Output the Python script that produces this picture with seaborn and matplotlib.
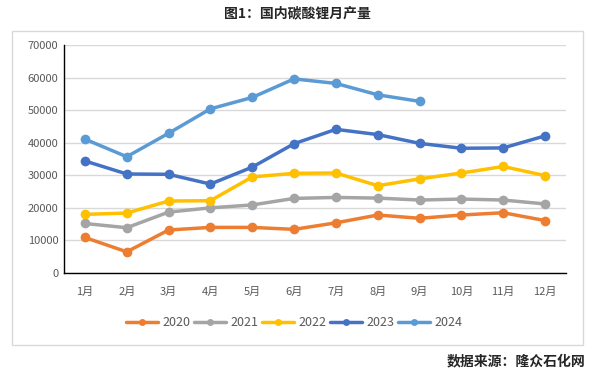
import matplotlib
matplotlib.use('Agg')
import matplotlib.pyplot as plt
import seaborn as sns
import pandas as pd
from matplotlib.patches import Rectangle

months = ['1月', '2月', '3月', '4月', '5月', '6月', '7月', '8月', '9月', '10月', '11月', '12月']
years = ['2020', '2021', '2022', '2023', '2024']

v2020 = [10900, 6500, 13200, 14000, 14000, 13400, 15400, 17800, 16800, 17800, 18500, 16100]
v2021 = [15200, 13900, 18700, 20000, 20900, 22900, 23200, 23000, 22400, 22700, 22400, 21200]
v2022 = [18000, 18400, 22100, 22200, 29500, 30600, 30700, 26800, 28900, 30700, 32700, 29900]
v2023 = [34400, 30400, 30300, 27300, 32500, 39700, 44100, 42500, 39800, 38300, 38400, 42100]
v2024 = [41100, 35700, 42900, 50400, 53900, 59600, 58200, 54700, 52700]

colors = ['#ED7D31', '#A5A5A5', '#FFC000', '#4472C4', '#5B9BD5']

rows = []
for y, vals in zip(years, [v2020, v2021, v2022, v2023, v2024]):
    for i, v in enumerate(vals):
        rows.append({'month': i, 'value': v, 'year': y})
df = pd.DataFrame(rows)

sns.set_style('white')
plt.rcParams['font.family'] = ['Noto Sans CJK SC', 'DejaVu Sans']

fig = plt.figure(figsize=(5.95, 3.73), dpi=100)
ax = fig.add_axes([64 / 595, 1 - 273 / 373, 502 / 595, 228 / 373])

# outer frame
fig.patches.append(Rectangle((11.5 / 595, 1 - 344.5 / 373), 571 / 595, 313.5 / 373,
                             transform=fig.transFigure, fill=False,
                             edgecolor='#D9D9D9', linewidth=1))

sns.lineplot(data=df, x='month', y='value', hue='year', palette=colors,
             marker='o', markersize=7, markeredgewidth=0, linewidth=2.5, ax=ax)

ax.set_xlim(-0.5, 11.5)
ax.set_ylim(0, 70000)
ax.set_yticks(range(0, 70001, 10000))
ax.set_xticks(range(12))
ax.set_xticklabels(months)
ax.set_xlabel('')
ax.set_ylabel('')
ax.yaxis.grid(True, color='#D9D9D9', linewidth=1)
ax.set_axisbelow(True)
for s in ['top', 'right']:
    ax.spines[s].set_visible(False)
for s in ['left', 'bottom']:
    ax.spines[s].set_color('black')
    ax.spines[s].set_linewidth(1)
ax.tick_params(axis='both', length=0, labelsize=8, colors='#595959', pad=4)
ax.tick_params(axis='x', pad=10)

h, l = ax.get_legend_handles_labels()
leg = ax.legend(h, l, loc='center', bbox_to_anchor=(0.494, 1 - 322.5 / 373),
                bbox_transform=fig.transFigure, ncol=5, frameon=False, fontsize=9,
                labelcolor='#595959', handlelength=2.6, handletextpad=0.3, columnspacing=0.3)
for lh in leg.legend_handles:
    lh.set_markersize(5)

fig.text(0.5, 1 - 13 / 373, '图1：国内碳酸锂月产量', ha='center', va='center',
         fontsize=10, fontweight='bold')
fig.text(585 / 595, 1 - 361 / 373, '数据来源：隆众石化网', ha='right', va='center',
         fontsize=10, fontweight='bold')

fig.savefig('out.png', dpi=100)
